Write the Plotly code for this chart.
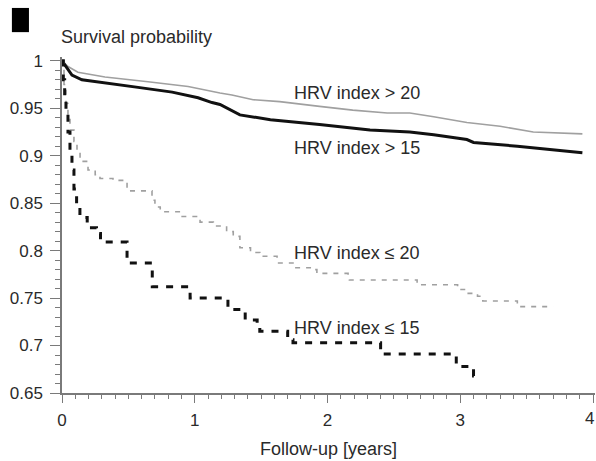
import plotly.graph_objects as go

# Follow-up time (years) and survival probability for each HRV group
t_gt20 = [0.0, 0.045, 0.12, 0.324, 0.648, 0.95, 1.19, 1.28, 1.44, 1.64, 1.94, 2.19, 2.45, 2.62, 2.80, 3.05, 3.30, 3.55, 3.92]
s_gt20 = [1.0, 0.994, 0.988, 0.983, 0.978, 0.973, 0.966, 0.964, 0.959, 0.957, 0.952, 0.948, 0.945, 0.945, 0.941, 0.935, 0.931, 0.925, 0.923]

t_gt15 = [0.0, 0.075, 0.15, 0.324, 0.573, 0.83, 1.025, 1.13, 1.19, 1.34, 1.57, 1.94, 2.32, 2.62, 2.80, 3.05, 3.10, 3.43, 3.92]
s_gt15 = [1.0, 0.985, 0.980, 0.977, 0.972, 0.967, 0.961, 0.956, 0.954, 0.943, 0.938, 0.933, 0.927, 0.925, 0.922, 0.917, 0.914, 0.910, 0.903]

t_le20 = [0.0, 0.015, 0.03, 0.045, 0.06, 0.09, 0.113, 0.136, 0.196, 0.25, 0.286, 0.384, 0.49, 0.678, 0.70, 0.74, 0.89,
          1.04, 1.14, 1.24, 1.29, 1.34, 1.42, 1.49, 1.62, 1.74, 1.87, 1.92, 2.155, 2.165, 2.675, 2.71, 2.98, 3.06,
          3.13, 3.17, 3.43, 3.70]
s_le20 = [1.0, 0.975, 0.955, 0.94, 0.927, 0.915, 0.904, 0.894, 0.885, 0.88, 0.876, 0.874, 0.863, 0.853, 0.846, 0.841, 0.836,
          0.830, 0.826, 0.82, 0.815, 0.803, 0.798, 0.794, 0.787, 0.782, 0.78, 0.776, 0.771, 0.769, 0.766, 0.764, 0.759, 0.755,
          0.752, 0.747, 0.741, 0.741]

t_le15 = [0.0, 0.01, 0.02, 0.03, 0.045, 0.06, 0.075, 0.09, 0.11, 0.135, 0.19, 0.26, 0.29, 0.49, 0.68, 0.965, 1.25, 1.38,
          1.47, 1.49, 1.70, 1.74, 2.40, 2.97, 3.10, 3.15]
s_le15 = [1.0, 0.98, 0.96, 0.945, 0.925, 0.905, 0.885, 0.865, 0.848, 0.835, 0.824, 0.818, 0.809, 0.787, 0.762, 0.750, 0.738, 0.727,
          0.722, 0.715, 0.706, 0.703, 0.691, 0.678, 0.668, 0.668]

y_ticks = [0.65, 0.7, 0.75, 0.8, 0.85, 0.9, 0.95, 1.0]
y_tick_text = ["0.65", "0.7", "0.75", "0.8", "0.85", "0.9", "0.95", "1"]
x_ticks = [0, 1, 2, 3, 4]
x_tick_text = ["0", "1", "2", "3", "4"]

FONT = "Liberation Sans, Arial, sans-serif"
TXT = "#2a2a2a"
AX = "#7a7a7a"

fig = go.Figure()
fig.add_trace(go.Scatter(x=t_gt20, y=s_gt20, mode="lines",
                         line=dict(color="#a0a0a0", width=1.6)))
fig.add_trace(go.Scatter(x=t_gt15, y=s_gt15, mode="lines",
                         line=dict(color="#111111", width=3)))
fig.add_trace(go.Scatter(x=t_le20, y=s_le20, mode="lines", line_shape="hv",
                         line=dict(color="#a0a0a0", width=1.6, dash="5px,6px")))
fig.add_trace(go.Scatter(x=t_le15, y=s_le15, mode="lines", line_shape="hv",
                         line=dict(color="#111111", width=3, dash="7px,8px")))

labels = [
    (1.756, 0.966, "HRV index > 20"),
    (1.756, 0.908, "HRV index > 15"),
    (1.756, 0.797, "HRV index ≤ 20"),
    (1.756, 0.719, "HRV index ≤ 15"),
]
for lx, ly, txt in labels:
    fig.add_annotation(x=lx, y=ly, text=txt, showarrow=False, xanchor="left", yanchor="middle",
                       xshift=-3, font=dict(family=FONT, size=18, color=TXT))

fig.add_annotation(xref="paper", yref="paper", x=0.0, y=1.059, text="Survival probability",
                   showarrow=False, xanchor="left", yanchor="middle", xshift=-3,
                   font=dict(family=FONT, size=18, color=TXT))
fig.add_annotation(xref="paper", yref="paper", x=0.5, y=-0.168, text="Follow-up [years]",
                   showarrow=False, xanchor="center", yanchor="middle",
                   font=dict(family=FONT, size=18, color=TXT))

# last x tick label sits against the right edge of the page
fig.add_annotation(x=x_ticks[-1], xref="x", yref="paper", y=0, yshift=-25, xshift=3,
                   text=x_tick_text[-1], showarrow=False, xanchor="right", yanchor="middle",
                   font=dict(family=FONT, size=17, color=TXT))

fig.add_shape(type="rect", xref="paper", yref="paper", x0=-0.094, x1=-0.062, y0=1.074, y1=1.146,
              fillcolor="black", line=dict(width=0))

fig.update_layout(
    width=596, height=461,
    margin=dict(l=62, r=1, t=57, b=67.5),
    paper_bgcolor="white", plot_bgcolor="white",
    showlegend=False,
    font=dict(family=FONT, size=17, color=TXT),
)
fig.update_xaxes(range=[0, 4.015], tickvals=x_ticks, ticktext=x_tick_text[:-1] + [""],
                 showgrid=False, zeroline=False, showline=True, linecolor=AX, linewidth=1.5,
                 ticks="outside", ticklen=8, tickcolor=AX, tickwidth=1.2, ticklabelstandoff=3,
                 minor=dict(dtick=0.1, ticks="outside", ticklen=4, tickcolor=AX, tickwidth=1),
                 tickfont=dict(family=FONT, size=17, color=TXT))
fig.update_yaxes(range=[0.65, 1.004], tickvals=y_ticks, ticktext=y_tick_text,
                 showgrid=False, zeroline=False, showline=True, linecolor=AX, linewidth=1.5,
                 ticks="outside", ticklen=10, tickcolor=AX, tickwidth=1.2, ticklabelstandoff=4,
                 minor=dict(dtick=0.01, ticks="outside", ticklen=5, tickcolor=AX, tickwidth=1),
                 tickfont=dict(family=FONT, size=17, color=TXT))

fig.write_html("out.html")
